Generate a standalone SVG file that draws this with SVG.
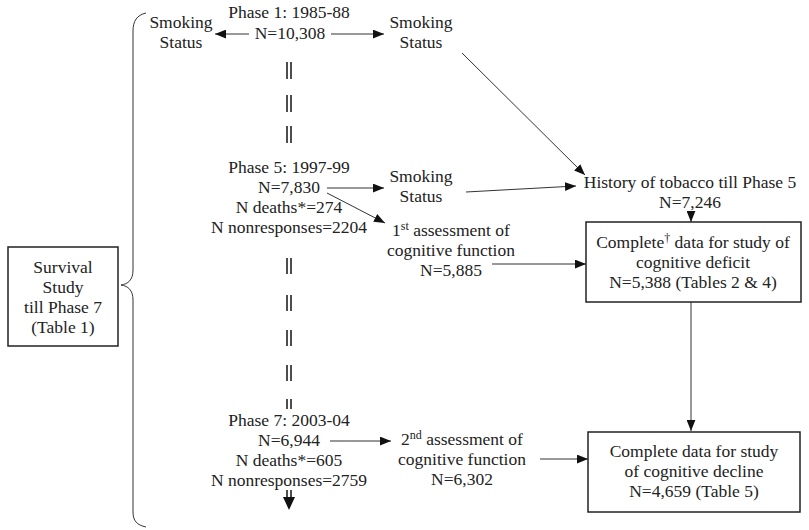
<svg xmlns="http://www.w3.org/2000/svg" width="809" height="530" viewBox="0 0 809 530">
<style>
text{font-family:"Liberation Serif","Times New Roman",serif;font-size:17.5px;fill:#222}
.c{text-anchor:middle}
.ln{stroke:#333;stroke-width:1;fill:none}
.box{stroke:#222;stroke-width:1.5;fill:#fff}
.dl{stroke:#222;stroke-width:1.6}
</style>
<defs>
<marker id="ah" viewBox="0 0 10 8" refX="10" refY="4" markerWidth="11" markerHeight="9" markerUnits="userSpaceOnUse" orient="auto">
<path d="M0,0 L10,4 L0,8 Z" fill="#111"/>
</marker>
</defs>
<g id="connectors">
<line class="ln" x1="249" y1="34" x2="215" y2="34" marker-end="url(#ah)"/>
<line class="ln" x1="331" y1="34" x2="384" y2="34" marker-end="url(#ah)"/>
<line class="ln" x1="462" y1="53" x2="585" y2="175" marker-end="url(#ah)"/>
<line class="ln" x1="327" y1="188" x2="384" y2="188" marker-end="url(#ah)"/>
<line class="ln" x1="466" y1="192" x2="576" y2="186" marker-end="url(#ah)"/>
<line class="ln" x1="327" y1="193" x2="385" y2="223" marker-end="url(#ah)"/>
<line class="ln" x1="691" y1="211" x2="691" y2="222" marker-end="url(#ah)"/>
<line class="ln" x1="492" y1="264" x2="586" y2="264" marker-end="url(#ah)"/>
<line class="ln" x1="691" y1="302" x2="691" y2="431" marker-end="url(#ah)"/>
<line class="ln" x1="330" y1="441" x2="391" y2="441" marker-end="url(#ah)"/>
<line class="ln" x1="540" y1="459" x2="588" y2="459" marker-end="url(#ah)"/>
<g id="timeline">
<path class="dl" d="M287,62V79M291,62V79M287,95V112M291,95V112M287,126V143M291,126V143"/>
<path class="dl" d="M287,258V274M291,258V274M287,295V311M291,295V311M287,330V346M291,330V346M287,365V381M291,365V381M287,399V409M291,399V409"/>
<path class="dl" d="M287,490V499M291,490V499"/>
<path d="M283,497 L295,497 L289,510 Z" fill="#111"/>
</g>
<path id="brace" class="ln" d="M146,13 C137,15 133,21 133,31 L133,270 C133,280 128,284 121,285 C128,286 133,290 133,300 L133,512 C133,521 137,525 146,527"/>
</g>
<g id="smoking1L"><text class="c" x="181" y="28">Smoking</text><text class="c" x="181" y="48">Status</text></g>
<g id="phase1"><text class="c" x="289" y="18">Phase 1: 1985-88</text><text class="c" x="290" y="39">N=10,308</text></g>
<g id="smoking1R"><text class="c" x="421" y="28">Smoking</text><text class="c" x="421" y="48">Status</text></g>
<g id="phase5"><text class="c" x="289" y="173">Phase 5: 1997-99</text><text class="c" x="289" y="193">N=7,830</text><text class="c" x="289" y="213">N deaths*=274</text><text class="c" x="289" y="233">N nonresponses=2204</text></g>
<g id="smoking5"><text class="c" x="421" y="182">Smoking</text><text class="c" x="421" y="202">Status</text></g>
<g id="history"><text class="c" x="690" y="188">History of tobacco till Phase 5</text><text class="c" x="690" y="208">N=7,246</text></g>
<g id="assess1"><text class="c" x="451" y="236">1<tspan font-size="12" dy="-6">st</tspan><tspan dy="6"> assessment of</tspan></text><text class="c" x="451" y="256">cognitive function</text><text class="c" x="451" y="276">N=5,885</text></g>
<g id="deficit"><rect class="box" x="586" y="222" width="215" height="80"/><text class="c" x="693" y="248">Complete<tspan font-size="12" dy="-6">†</tspan><tspan dy="6"> data for study of</tspan></text><text class="c" x="693" y="268">cognitive deficit</text><text class="c" x="693" y="288">N=5,388 (Tables 2 &amp; 4)</text></g>
<g id="survival"><rect class="box" x="8" y="247" width="110" height="99"/><text class="c" x="63" y="273">Survival</text><text class="c" x="63" y="293">Study</text><text class="c" x="63" y="313">till Phase 7</text><text class="c" x="63" y="333">(Table 1)</text></g>
<g id="phase7"><text class="c" x="289" y="426">Phase 7: 2003-04</text><text class="c" x="289" y="446">N=6,944</text><text class="c" x="289" y="466">N deaths*=605</text><text class="c" x="289" y="486">N nonresponses=2759</text></g>
<g id="assess2"><text class="c" x="462" y="445">2<tspan font-size="12" dy="-6">nd</tspan><tspan dy="6"> assessment of</tspan></text><text class="c" x="462" y="465">cognitive function</text><text class="c" x="462" y="485">N=6,302</text></g>
<g id="decline"><rect class="box" x="588" y="432" width="212" height="80"/><text class="c" x="694" y="457">Complete data for study</text><text class="c" x="694" y="477">of cognitive decline</text><text class="c" x="694" y="497">N=4,659 (Table 5)</text></g>
</svg>
